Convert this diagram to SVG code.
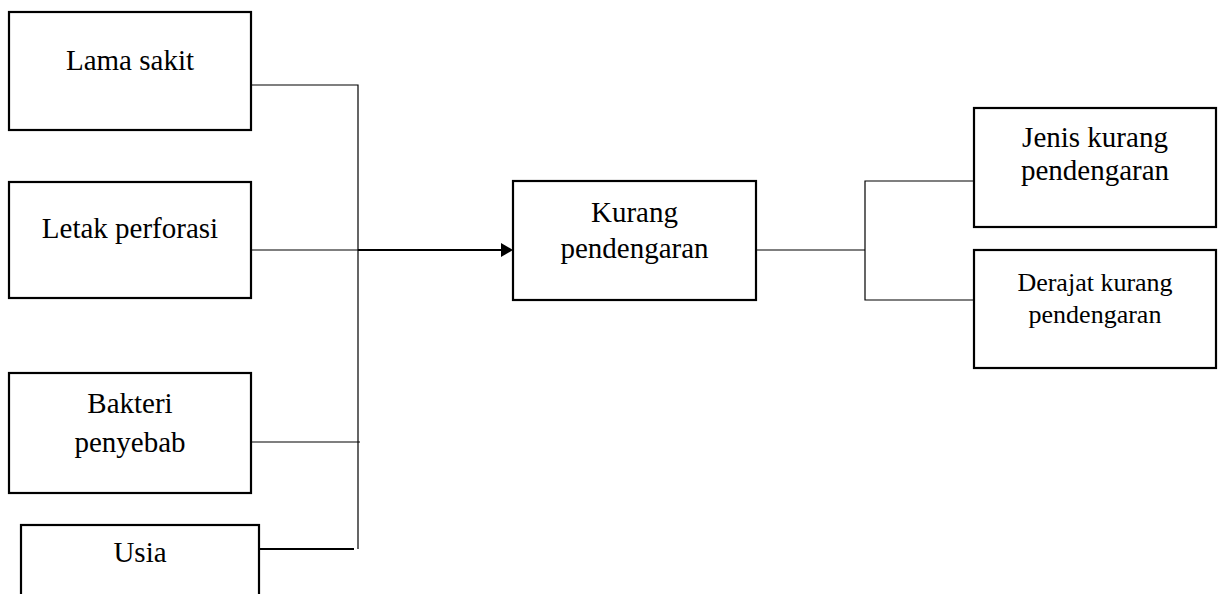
<svg xmlns="http://www.w3.org/2000/svg" width="1224" height="594" viewBox="0 0 1224 594">
<style>
.box{fill:#fff;stroke:#000;stroke-width:2.2}
.t{font-family:"Liberation Serif","Times New Roman",serif;font-size:29px;fill:#000;text-anchor:middle}
.s{font-size:26px}
.c{fill:none;stroke:#000;stroke-width:1.2}
.c2{fill:none;stroke:#000;stroke-width:2}
</style>
<defs>
<marker id="arr" viewBox="0 0 10 10" refX="10" refY="5" markerWidth="6" markerHeight="6" orient="auto" markerUnits="userSpaceOnUse">
<path d="M0,0 L10,5 L0,10 z" fill="#000"/>
</marker>
</defs>
<rect width="1224" height="594" fill="#fff"/>
<g id="connectors">
<polyline class="c" points="251,85 358,85 358,549"/>
<line class="c" x1="251" y1="250" x2="358" y2="250"/>
<line class="c2" x1="358" y1="250" x2="503" y2="250"/>
<path d="M501,243 L513,250 L501,257 z" fill="#000"/>
<line class="c" x1="251" y1="442" x2="360" y2="442"/>
<line class="c2" x1="259" y1="549" x2="354" y2="549"/>
<line class="c" x1="756" y1="250" x2="865" y2="250"/>
<polyline class="c" points="974,181 865,181 865,300 974,300"/>
</g>
<g id="lama">
<rect class="box" x="9" y="12" width="242" height="118"/>
<text class="t" x="130" y="70">Lama sakit</text>
</g>
<g id="letak">
<rect class="box" x="9" y="182" width="242" height="116"/>
<text class="t" x="130" y="238">Letak perforasi</text>
</g>
<g id="bakteri">
<rect class="box" x="9" y="373" width="242" height="120"/>
<text class="t" x="130" y="413">Bakteri</text>
<text class="t" x="130" y="452">penyebab</text>
</g>
<g id="usia">
<rect class="box" x="21" y="525" width="238" height="80"/>
<text class="t" x="140" y="562">Usia</text>
</g>
<g id="kurang">
<rect class="box" x="513" y="181" width="243" height="119"/>
<text class="t" x="634.5" y="222">Kurang</text>
<text class="t" x="634.5" y="258">pendengaran</text>
</g>
<g id="jenis">
<rect class="box" x="974" y="108" width="242" height="119"/>
<text class="t" x="1095" y="147">Jenis kurang</text>
<text class="t" x="1095" y="180">pendengaran</text>
</g>
<g id="derajat">
<rect class="box" x="974" y="250" width="242" height="118"/>
<text class="t s" x="1095" y="291">Derajat kurang</text>
<text class="t s" x="1095" y="323">pendengaran</text>
</g>
</svg>
